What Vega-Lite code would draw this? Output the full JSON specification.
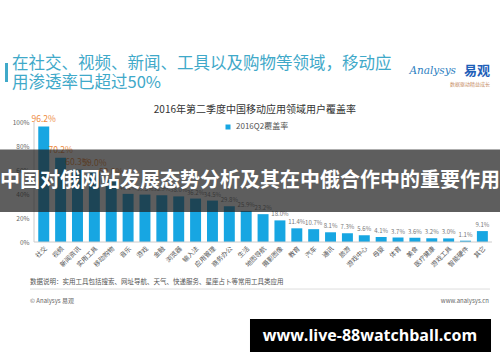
{
  "$schema": "https://vega.github.io/schema/vega-lite/v6.json",
  "autosize": {"type": "none"},
  "padding": {"left": 34, "top": 110, "right": 0, "bottom": 120},
  "width": 466,
  "height": 132,
  "background": "white",
  "config": {"font": "Noto Sans CJK SC", "view": {"stroke": null}},
  "data": {"values": [
    {"cat": "社交", "value": 0.962},
    {"cat": "视频", "value": 0.702},
    {"cat": "新闻资讯", "value": 0.603},
    {"cat": "实用工具", "value": 0.590},
    {"cat": "移动购物", "value": 0.520},
    {"cat": "音乐", "value": 0.401},
    {"cat": "游戏", "value": 0.395},
    {"cat": "金融", "value": 0.389},
    {"cat": "浏览器", "value": 0.380},
    {"cat": "输入法", "value": 0.362},
    {"cat": "应用管理", "value": 0.345},
    {"cat": "商务办公", "value": 0.298},
    {"cat": "生活", "value": 0.259},
    {"cat": "地图导航", "value": 0.232},
    {"cat": "摄影图像", "value": 0.180},
    {"cat": "教育", "value": 0.114},
    {"cat": "汽车", "value": 0.107},
    {"cat": "通讯", "value": 0.081},
    {"cat": "旅游", "value": 0.073},
    {"cat": "游戏中心", "value": 0.056},
    {"cat": "母婴", "value": 0.041},
    {"cat": "体育", "value": 0.037},
    {"cat": "美食", "value": 0.036},
    {"cat": "医疗健康", "value": 0.032},
    {"cat": "游戏工具", "value": 0.030},
    {"cat": "智能硬件", "value": 0.011},
    {"cat": "其它", "value": 0.091}
  ]},
  "resolve": {"scale": {"x": "independent"}},
  "layer": [
    {
      "mark": {"type": "bar"},
      "encoding": {
        "x": {"field": "cat", "type": "nominal", "sort": null,
              "scale": {"type": "band", "paddingInner": 0.35, "paddingOuter": 0.486, "align": 0.26},
              "axis": {"title": null, "labelAngle": -45, "labelFontSize": 6.5, "labelColor": "#555555", "ticks": false, "domain": false, "labelPadding": 3}},
        "y": {"field": "value", "type": "quantitative",
              "scale": {"domain": [0, 1.1], "nice": false, "zero": true},
              "axis": {"orient": "left", "title": null, "tickCount": 6, "format": ".0%", "grid": false, "ticks": false, "domain": false, "labelFontSize": 6.5, "labelColor": "#666666", "labelPadding": 5, "labelOverlap": false, "labelFlush": false, "labelBound": false}},
        "color": {"datum": "2016Q2覆盖率", "type": "nominal",
                  "scale": {"range": ["#17A6E2"]},
                  "legend": {"title": null, "orient": "none", "legendX": 190, "legendY": 13, "symbolType": "square", "symbolSize": 25, "labelFontSize": 8, "labelColor": "#555555", "padding": 0}}
      }
    },
    {
      "mark": {"type": "text", "baseline": "bottom", "dy": -3},
      "encoding": {
        "x": {"field": "cat", "type": "nominal", "sort": null,
              "scale": {"type": "band", "paddingInner": 0.35, "paddingOuter": 0.486, "align": 0.26}, "axis": null},
        "y": {"field": "value", "type": "quantitative"},
        "text": {"field": "value", "type": "quantitative", "format": ".1%"},
        "color": {"condition": {"test": "datum.value >= 0.5", "value": "#EE8A3C"}, "value": "#777777"},
        "size": {"condition": {"test": "datum.value >= 0.5", "value": 8.5}, "value": 6}
      }
    },
    {
      "data": {"values": [{}]},
      "mark": {"type": "rule", "color": "#cccccc", "strokeWidth": 1},
      "encoding": {
        "x": {"datum": 0, "type": "quantitative", "scale": {"domain": [0, 100]}, "axis": null},
        "x2": {"datum": 98.28},
        "y": {"datum": 0, "type": "quantitative"}
      }
    },
    {
      "data": {"values": [{}]},
      "mark": {"type": "rule", "color": "#cccccc", "strokeWidth": 1},
      "encoding": {
        "x": {"datum": 0, "type": "quantitative", "scale": {"domain": [0, 100]}, "axis": null},
        "y": {"datum": 0, "type": "quantitative"},
        "y2": {"datum": 1.0}
      }
    },
    {
      "data": {"values": [{}]},
      "mark": {"type": "text", "fontSize": 10, "color": "#333333", "baseline": "middle", "align": "center"},
      "encoding": {
        "x": {"datum": 47.4, "type": "quantitative", "scale": {"domain": [0, 100]}, "axis": null},
        "y": {"datum": 1.1, "type": "quantitative"},
        "text": {"value": "2016年第二季度中国移动应用领域用户覆盖率"}
      }
    },
    {
      "data": {"values": [{}]},
      "mark": {"type": "rect", "color": "#3FA9C9"},
      "encoding": {
        "x": {"datum": -6.22, "type": "quantitative", "scale": {"domain": [0, 100]}, "axis": null},
        "x2": {"datum": -5.58},
        "y": {"datum": 1.492, "type": "quantitative"},
        "y2": {"datum": 1.333}
      }
    },
    {
      "data": {"values": [{}]},
      "mark": {"type": "text", "fontSize": 16.5, "lineHeight": 19, "color": "#3FA9C9", "baseline": "top", "align": "left"},
      "encoding": {
        "x": {"datum": -4.72, "type": "quantitative", "scale": {"domain": [0, 100]}, "axis": null},
        "y": {"datum": 1.55, "type": "quantitative"},
        "text": {"value": ["在社交、视频、新闻、工具以及购物等领域，移动应", "用渗透率已超过50%"]}
      }
    },
    {
      "data": {"values": [{}]},
      "mark": {"type": "text", "fontSize": 10.5, "fontStyle": "italic", "color": "#2F7FC1", "baseline": "middle", "align": "right", "font": "DejaVu Serif"},
      "encoding": {
        "x": {"datum": 90.56, "type": "quantitative", "scale": {"domain": [0, 100]}, "axis": null},
        "y": {"datum": 1.425, "type": "quantitative"},
        "text": {"value": "Analysys"}
      }
    },
    {
      "data": {"values": [{}]},
      "mark": {"type": "text", "fontSize": 13, "fontWeight": "bold", "color": "#1E5EB8", "baseline": "middle", "align": "right"},
      "encoding": {
        "x": {"datum": 97.85, "type": "quantitative", "scale": {"domain": [0, 100]}, "axis": null},
        "y": {"datum": 1.425, "type": "quantitative"},
        "text": {"value": "易观"}
      }
    },
    {
      "data": {"values": [{}]},
      "mark": {"type": "text", "fontSize": 5, "color": "#C8906A", "baseline": "middle", "align": "right"},
      "encoding": {
        "x": {"datum": 97.85, "type": "quantitative", "scale": {"domain": [0, 100]}, "axis": null},
        "y": {"datum": 1.317, "type": "quantitative"},
        "text": {"value": "数据驱动精益成长"}
      }
    },
    {
      "data": {"values": [{}]},
      "mark": {"type": "text", "fontSize": 6.5, "color": "#555555", "baseline": "middle", "align": "left"},
      "encoding": {
        "x": {"datum": -0.86, "type": "quantitative", "scale": {"domain": [0, 100]}, "axis": null},
        "y": {"datum": -0.333, "type": "quantitative"},
        "text": {"value": "数据说明：实用工具包括搜索、网址导航、天气、快递服务、星座占卜等常用工具类应用"}
      }
    },
    {
      "data": {"values": [{}]},
      "mark": {"type": "rule", "color": "#dddddd", "strokeWidth": 1},
      "encoding": {
        "x": {"datum": -0.86, "type": "quantitative", "scale": {"domain": [0, 100]}, "axis": null},
        "x2": {"datum": 97.85},
        "y": {"datum": -0.392, "type": "quantitative"}
      }
    },
    {
      "data": {"values": [{}]},
      "mark": {"type": "text", "fontSize": 6, "color": "#666666", "baseline": "middle", "align": "left"},
      "encoding": {
        "x": {"datum": -0.86, "type": "quantitative", "scale": {"domain": [0, 100]}, "axis": null},
        "y": {"datum": -0.492, "type": "quantitative"},
        "text": {"value": "© Analysys 易观"}
      }
    },
    {
      "data": {"values": [{}]},
      "mark": {"type": "text", "fontSize": 6, "color": "#666666", "baseline": "middle", "align": "right"},
      "encoding": {
        "x": {"datum": 97.64, "type": "quantitative", "scale": {"domain": [0, 100]}, "axis": null},
        "y": {"datum": -0.492, "type": "quantitative"},
        "text": {"value": "www.analysys.cn"}
      }
    },
    {
      "data": {"values": [{}]},
      "mark": {"type": "rect", "color": "#202020", "opacity": 0.72},
      "encoding": {
        "x": {"datum": -7.3, "type": "quantitative", "scale": {"domain": [0, 100]}, "axis": null},
        "x2": {"datum": 100},
        "y": {"datum": 0.771, "type": "quantitative"},
        "y2": {"datum": 0.25}
      }
    },
    {
      "data": {"values": [{}]},
      "mark": {"type": "text", "fontSize": 20, "fontWeight": "bold", "color": "#ffffff", "baseline": "middle", "align": "center"},
      "encoding": {
        "x": {"datum": 46.35, "type": "quantitative", "scale": {"domain": [0, 100]}, "axis": null},
        "y": {"datum": 0.508, "type": "quantitative"},
        "text": {"value": "中国对俄网站发展态势分析及其在中俄合作中的重要作用"}
      }
    },
    {
      "data": {"values": [{}]},
      "mark": {"type": "rect", "color": "#000000"},
      "encoding": {
        "x": {"datum": 46.35, "type": "quantitative", "scale": {"domain": [0, 100]}, "axis": null},
        "x2": {"datum": 98.07},
        "y": {"datum": -0.642, "type": "quantitative"},
        "y2": {"datum": -0.917}
      }
    },
    {
      "data": {"values": [{}]},
      "mark": {"type": "text", "fontSize": 16, "fontWeight": "bold", "color": "#ffffff", "baseline": "middle", "align": "center", "font": "Open Sans"},
      "encoding": {
        "x": {"datum": 72.1, "type": "quantitative", "scale": {"domain": [0, 100]}, "axis": null},
        "y": {"datum": -0.783, "type": "quantitative"},
        "text": {"value": "www.live-88watchball.com"}
      }
    }
  ]
}
